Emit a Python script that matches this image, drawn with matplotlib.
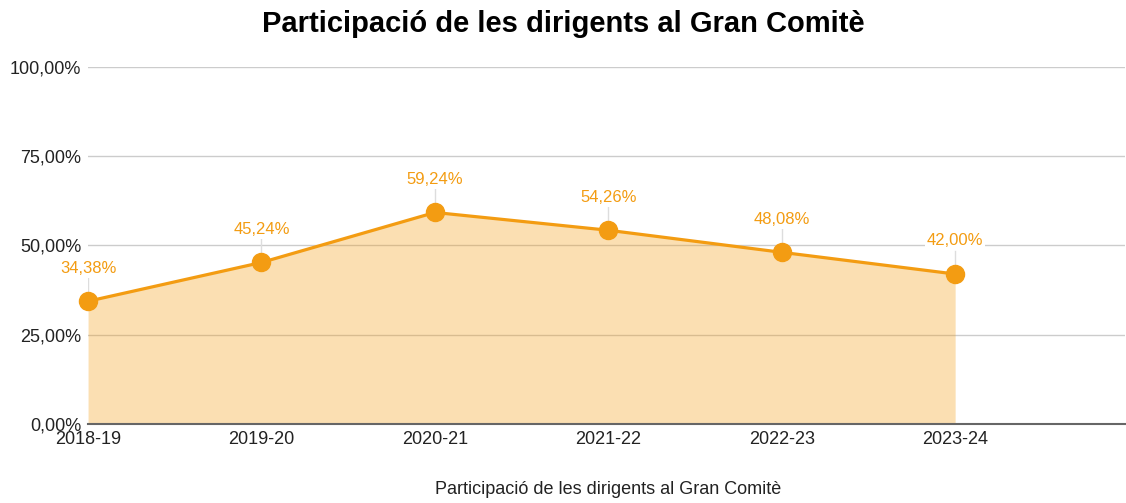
import numpy as np
import matplotlib.pyplot as plt
from matplotlib.ticker import FuncFormatter

plt.rcParams['font.family'] = ['Liberation Sans', 'DejaVu Sans']

# data
seasons = ['2018-19', '2019-20', '2020-21', '2021-22', '2022-23', '2023-24']
participacio = [34.38, 45.24, 59.24, 54.26, 48.08, 42.00]
yticks = [0, 25, 50, 75, 100]

orange = '#f39c12'

def pct(v):
    return f'{v:.2f}'.replace('.', ',') + '%'

fig = plt.figure(figsize=(11.26, 5.03), dpi=100)
ax = fig.add_axes([0.0782, 0.157, 0.921, 0.71])

x = np.arange(len(seasons))
ax.fill_between(x, 0, participacio, color=orange, alpha=0.32, lw=0, zorder=2)
ax.plot(x, participacio, color=orange, lw=2.3, marker='o', ms=13, zorder=4,
        clip_on=False)

# labels with thin leader lines
for xi, v in zip(x, participacio):
    ax.plot([xi, xi], [v, v + 6.5], color='#dddddd', lw=1, zorder=3)
    ax.text(xi, v + 9.3, pct(v), ha='center', va='center', fontsize=12,
            color=orange, zorder=5,
            bbox=dict(facecolor='white', edgecolor='none', pad=1.5))

ax.set_xlim(0, 5.98)
ax.set_ylim(0, 100)
ax.set_xticks(x)
ax.set_xticklabels(seasons)
ax.set_yticks(yticks)
ax.yaxis.set_major_formatter(FuncFormatter(lambda v, p: pct(v)))
ax.tick_params(length=0, labelsize=13, colors='#222222')
ax.tick_params(axis='x', pad=5)
ax.tick_params(axis='y', pad=5)
ax.grid(axis='y', color='#cccccc', lw=1, zorder=1)
ax.set_axisbelow(True)
for s in ['top', 'right', 'left']:
    ax.spines[s].set_visible(False)
ax.spines['bottom'].set_color('#666666')
ax.spines['bottom'].set_linewidth(1.5)
ax.spines['bottom'].set_zorder(6)

fig.text(0.5404, 1 - 490 / 503, 'Participació de les dirigents al Gran Comitè',
         fontsize=13, color='#222222', ha='center', va='center')
fig.suptitle('Participació de les dirigents al Gran Comitè', fontsize=21,
             fontweight='bold', y=0.98)

fig.savefig('out.png', dpi=100)
